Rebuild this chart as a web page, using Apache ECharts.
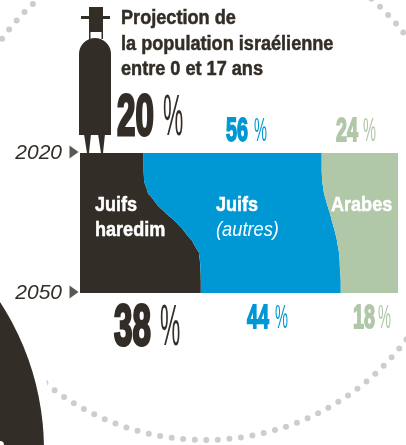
<!DOCTYPE html>
<html>
<head>
<meta charset="utf-8">
<style>html,body{margin:0;padding:0;background:#fff}#chart{width:406px;height:445px}</style>
<script src="https://cdn.jsdelivr.net/npm/echarts@6/dist/echarts.min.js"></script>
</head>
<body>
<div id="chart"></div>
<script>
// every 2.5 years between 2020 and 2050
var years = ['2020','2022.5','2025','2027.5','2030','2032.5','2035','2037.5','2040','2042.5','2045','2047.5','2050']
var haredim = [20, 20, 20.1, 20.9, 23.1, 26.4, 30.4, 33.6, 36.2, 37.6, 37.9, 38, 38]
var autres = [56, 56, 56, 55.6, 54.2, 52, 49, 46.8, 44.9, 44, 43.9, 44, 44]
var arabes = [24, 24, 23.9, 23.5, 22.7, 21.6, 20.6, 19.6, 18.9, 18.4, 18.2, 18, 18]
var yearLabels = ['2020', '2050']
var titleLines = ['Projection de', 'la population israélienne', 'entre 0 et 17 ans']

var DARK = '#322d27', BLUE = '#0098d4', GREEN = '#b0c8a8', DOT = '#cdcdcd'
var FONT = '"Liberation Sans",sans-serif'

function bandSeries(name, values, color) {
  return {
    name: name,
    type: 'line',
    stack: 'pop',
    smooth: 0.8,
    symbol: 'none',
    lineStyle: { width: 0 },
    areaStyle: { color: color, opacity: 1 },
    data: values,
    z: 3,
    silent: true
  }
}

// y is the text baseline; the font is squeezed with sx because no condensed face is installed
function txt(x, y, str, size, color, opts) {
  opts = opts || {}
  return {
    type: 'text',
    x: x,
    y: y + size * 0.21,
    scaleX: opts.sx || 1,
    z: 10,
    style: {
      text: String(str),
      fill: color,
      stroke: opts.heavy ? color : null,
      lineWidth: opts.heavy || 0,
      font: (opts.style || 'normal') + ' ' + (opts.weight || 'bold') + ' ' + size + 'px ' + FONT,
      textVerticalAlign: 'bottom'
    }
  }
}

var last = years.length - 1
var chart = echarts.init(document.getElementById('chart'))

chart.setOption({
  animation: false,
  backgroundColor: '#fff',
  grid: { left: 80, right: 8, top: 153, bottom: 152 },
  xAxis: { type: 'value', min: 0, max: 100, show: false },
  yAxis: {
    type: 'category',
    data: years,
    inverse: true,
    boundaryGap: false,
    axisLine: { show: false },
    axisTick: { show: false },
    splitLine: { show: false },
    axisLabel: {
      interval: 0,
      margin: 18,
      color: DARK,
      fontFamily: 'Liberation Sans, sans-serif',
      fontStyle: 'italic',
      fontSize: 21,
      formatter: function (v) { return yearLabels.indexOf(v) >= 0 ? v : '' }
    }
  },
  series: [
    bandSeries('Juifs haredim', haredim, DARK),
    bandSeries('Juifs (autres)', autres, BLUE),
    bandSeries('Arabes', arabes, GREEN),
    {
      type: 'scatter',
      symbol: 'triangle',
      symbolRotate: -90,
      symbolSize: [13, 9],
      symbolOffset: [-6, -1],
      itemStyle: { color: DARK },
      clip: false,
      data: [[0, yearLabels[0]], [0, yearLabels[1]]],
      z: 5,
      silent: true
    }
  ],
  graphic: [
    // dotted ring, black disc with its white halo
    { type: 'circle', shape: { cx: 205, cy: 188, r: 252 }, z: -1, style: { fill: 'none', stroke: DOT, lineWidth: 6, lineCap: 'round', lineDash: [0, 11.6] } },
    { type: 'circle', shape: { cx: -227, cy: 450, r: 282 }, z: 0, style: { fill: '#fff' } },
    { type: 'circle', shape: { cx: -227, cy: 450, r: 271 }, z: 0, style: { fill: DARK } },
    { type: 'circle', shape: { cx: 0, cy: 445, r: 4 }, z: 1, style: { fill: '#fff' } },

    // figure
    { type: 'rect', z: 6, shape: { x: 89, y: 7, width: 14, height: 25 }, style: { fill: DARK } },
    { type: 'rect', z: 6, shape: { x: 81, y: 16, width: 29, height: 3 }, style: { fill: DARK } },
    { type: 'rect', z: 6, shape: { x: 89, y: 31, width: 1.5, height: 8 }, style: { fill: DARK } },
    { type: 'rect', z: 6, shape: { x: 101.5, y: 31, width: 1.5, height: 8 }, style: { fill: DARK } },
    { type: 'rect', z: 6, shape: { x: 79, y: 38, width: 32, height: 97, r: [16, 16, 0, 0] }, style: { fill: DARK } },
    { type: 'polygon', z: 6, shape: { points: [[84, 134], [91, 134], [89, 153], [87, 153]] }, style: { fill: DARK } },
    { type: 'polygon', z: 6, shape: { points: [[98, 134], [105, 134], [103, 153], [101, 153]] }, style: { fill: DARK } },

    // title
    txt(121, 24, titleLines[0], 20, DARK, { sx: 0.906, heavy: 0.5 }),
    txt(121, 50, titleLines[1], 20, DARK, { sx: 0.906, heavy: 0.5 }),
    txt(121, 75, titleLines[2], 20, DARK, { sx: 0.906, heavy: 0.5 }),

    // 2020 shares
    txt(117, 136, haredim[0], 57, DARK, { sx: 0.58, heavy: 3 }),
    txt(163, 136, '%', 57, DARK, { weight: 'normal', sx: 0.4 }),
    txt(226, 141, autres[0], 34, BLUE, { sx: 0.58, heavy: 1.8 }),
    txt(254, 141, '%', 34, BLUE, { weight: 'normal', sx: 0.43 }),
    txt(336, 141, arabes[0], 34, GREEN, { sx: 0.58, heavy: 1.8 }),
    txt(363, 141, '%', 34, GREEN, { weight: 'normal', sx: 0.43 }),

    // 2050 shares
    txt(114, 346, haredim[last], 57, DARK, { sx: 0.58, heavy: 3 }),
    txt(160, 346, '%', 57, DARK, { weight: 'normal', sx: 0.4 }),
    txt(247, 328, autres[last], 34, BLUE, { sx: 0.58, heavy: 1.8 }),
    txt(275, 328, '%', 34, BLUE, { weight: 'normal', sx: 0.43 }),
    txt(353, 328, arabes[last], 34, GREEN, { sx: 0.58, heavy: 1.8 }),
    txt(378, 328, '%', 34, GREEN, { weight: 'normal', sx: 0.43 }),

    // band names
    txt(95, 211, 'Juifs', 21, '#fff', { sx: 0.86, heavy: 0.5 }),
    txt(95, 236, 'haredim', 21, '#fff', { sx: 0.86, heavy: 0.5 }),
    txt(216, 211, 'Juifs', 21, '#fff', { sx: 0.86, heavy: 0.5 }),
    txt(216, 236, '(autres)', 21, '#fff', { weight: 'normal', style: 'italic', sx: 0.87 }),
    txt(331, 211, 'Arabes', 21, '#fff', { sx: 0.86, heavy: 0.5 })
  ]
})
</script>
</body>
</html>
